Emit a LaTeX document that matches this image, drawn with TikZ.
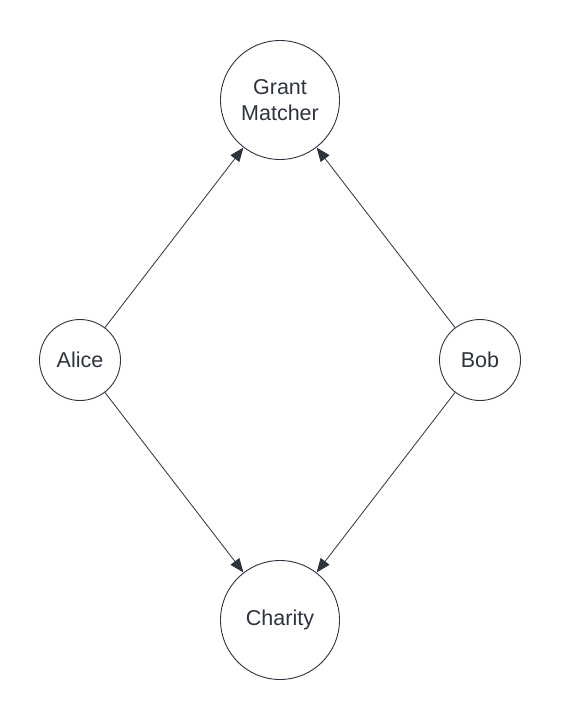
\documentclass[tikz,border=0pt]{standalone}
\usepackage{fontspec}
\setmainfont{Liberation Sans}
\usetikzlibrary{arrows.meta}
\definecolor{ink}{RGB}{46,51,64}
\begin{document}
\begin{tikzpicture}[x=1pt,y=-1pt,
  party/.style={circle,draw=ink,line width=0.9pt,text=ink,font=\fontsize{21.5}{26}\selectfont,inner sep=0pt,align=center},
  big/.style={party,minimum size=119pt},
  small/.style={party,minimum size=81pt},
  conn/.style={draw=ink,line width=0.8pt,-{Triangle[length=14pt,width=11pt]}}]
\fill[white] (0,0) rectangle (560,720);
\useasboundingbox (0,0) rectangle (560,720);
\node[big] (gm) at (280,100) {Grant\\Matcher};
\node[small] (alice) at (80,360) {Alice};
\node[small] (bob) at (480,360) {Bob};
\node[big] (charity) at (280,620) {Charity};
\draw[conn] (alice) -- (gm);
\draw[conn] (bob) -- (gm);
\draw[conn] (alice) -- (charity);
\draw[conn] (bob) -- (charity);
\end{tikzpicture}
\end{document}
